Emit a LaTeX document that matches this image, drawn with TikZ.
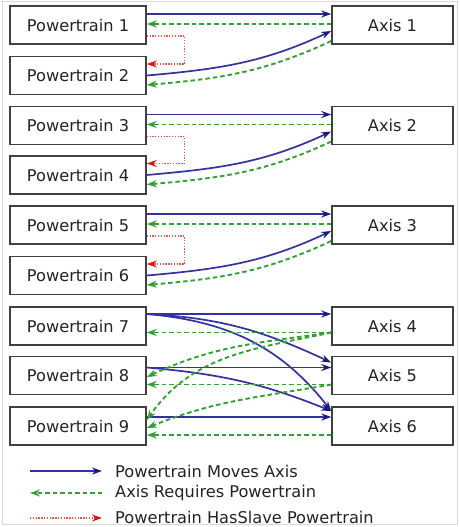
\documentclass[tikz,border=0pt]{standalone}
\usepackage{fontspec}
\newfontfamily\dfont{DejaVu Sans}
\usetikzlibrary{arrows.meta}
\definecolor{mblue}{RGB}{50,50,160}
\definecolor{mbluetip}{RGB}{25,25,130}
\definecolor{mgreen}{RGB}{50,160,50}
\definecolor{mred}{RGB}{235,85,85}
\definecolor{mredtip}{RGB}{215,20,20}
\definecolor{boxline}{RGB}{64,64,64}
\definecolor{txt}{RGB}{35,35,35}
\begin{document}
\begin{tikzpicture}[x=1pt,y=-1pt,
  box/.style={draw=boxline,line width=1.5pt,minimum width=136pt,minimum height=38pt,inner sep=0pt,text=txt,font=\dfont\fontsize{16.2}{19}\selectfont},
  abox/.style={box,minimum width=121pt},
  moves/.style={mblue,line width=1.7pt,-{Stealth[length=10pt,width=7pt,color=mbluetip]}},
  req/.style={mgreen,line width=1.9pt,dash pattern=on 4.5pt off 3pt,-{Stealth[length=10pt,width=7pt]}},
  slave/.style={mred,line width=1.4pt,dash pattern=on 1.3pt off 1.5pt,-{Stealth[length=10pt,width=7pt,color=mredtip]}},
  legtext/.style={anchor=west,inner sep=0pt,text=txt,font=\dfont\fontsize{16.2}{19}\selectfont}]
\useasboundingbox (0,0) rectangle (459,527);
\draw[black!15,line width=1pt] (2,2) rectangle (457,524);
% powertrains
\node[box] (p1) at (78,25) {Powertrain 1};
\node[box] (p2) at (78,75.5) {Powertrain 2};
\node[box] (p3) at (78,125.5) {Powertrain 3};
\node[box] (p4) at (78,175) {Powertrain 4};
\node[box] (p5) at (78,225) {Powertrain 5};
\node[box] (p6) at (78,275.5) {Powertrain 6};
\node[box] (p7) at (78,326) {Powertrain 7};
\node[box] (p8) at (78,375.5) {Powertrain 8};
\node[box] (p9) at (78,426) {Powertrain 9};
% axes
\node[abox] (a1) at (392.5,25) {Axis 1};
\node[abox] (a2) at (392.5,125.5) {Axis 2};
\node[abox] (a3) at (392.5,225) {Axis 3};
\node[abox] (a4) at (392.5,326) {Axis 4};
\node[abox] (a5) at (392.5,375.5) {Axis 5};
\node[abox] (a6) at (392.5,426) {Axis 6};
% pairs
\foreach \u/\v/\a in {p1/p2/a1,p3/p4/a2,p5/p6/a3}{
  \draw[moves] ([yshift=11pt]\u.east) -- ([yshift=11pt]\a.west);
  \draw[req] ([yshift=1pt]\a.west) -- ([yshift=1pt]\u.east);
  \draw[slave] ([yshift=-11pt]\u.east) -- ++(38,0) |- ([yshift=11.5pt]\v.east);
  \draw[moves] (\v.east) to[out=5,in=205] ([yshift=-6pt]\a.west);
  \draw[req] ([yshift=-16pt]\a.west) to[out=205,in=5] ([yshift=-9.5pt]\v.east);
}
% group 7-9
\draw[moves] ([yshift=12pt]p7.east) -- ([yshift=12pt]a4.west);
\draw[moves] ([yshift=12pt]p7.east) to[out=-3,in=155] ([yshift=13pt]a5.west);
\draw[moves] ([yshift=12pt]p7.east) to[out=-5,in=128] ([yshift=15pt]a6.west);
\draw[moves] ([yshift=8pt]p8.east) -- ([yshift=8pt]a5.west);
\draw[moves] ([yshift=8pt]p8.east) to[out=-5,in=158] ([yshift=15pt]a6.west);
\draw[moves] ([yshift=9pt]p9.east) -- ([yshift=9pt]a6.west);
\draw[req] ([yshift=-6.5pt]a4.west) -- ([yshift=-6.5pt]p7.east);
\draw[req] ([yshift=-6.5pt]a4.west) to[out=188,in=25] ([yshift=-1.5pt]p8.east);
\draw[req] ([yshift=-6.5pt]a4.west) to[out=192,in=55] ([yshift=6pt]p9.east);
\draw[req] ([yshift=-9pt]a5.west) -- ([yshift=-9pt]p8.east);
\draw[req] ([yshift=-9pt]a5.west) to[out=190,in=22] ([yshift=-2pt]p9.east);
\draw[req] ([yshift=-9pt]a6.west) -- ([yshift=-9pt]p9.east);
% legend
\coordinate (l1a) at (30,471); \coordinate (l1b) at (102,471);
\coordinate (l2a) at (30,493); \coordinate (l2b) at (102,493);
\coordinate (l3a) at (30,518); \coordinate (l3b) at (102,518);
\draw[moves] (l1a) -- (l1b);
\draw[req] (l2b) -- (l2a);
\draw[slave] (l3a) -- (l3b);
\node[legtext] (t1) at (115,471) {Powertrain Moves Axis};
\node[legtext] (t2) at (115,493) {Axis Requires Powertrain};
\node[legtext] (t3) at (115,517) {Powertrain HasSlave Powertrain};
\end{tikzpicture}
\end{document}
